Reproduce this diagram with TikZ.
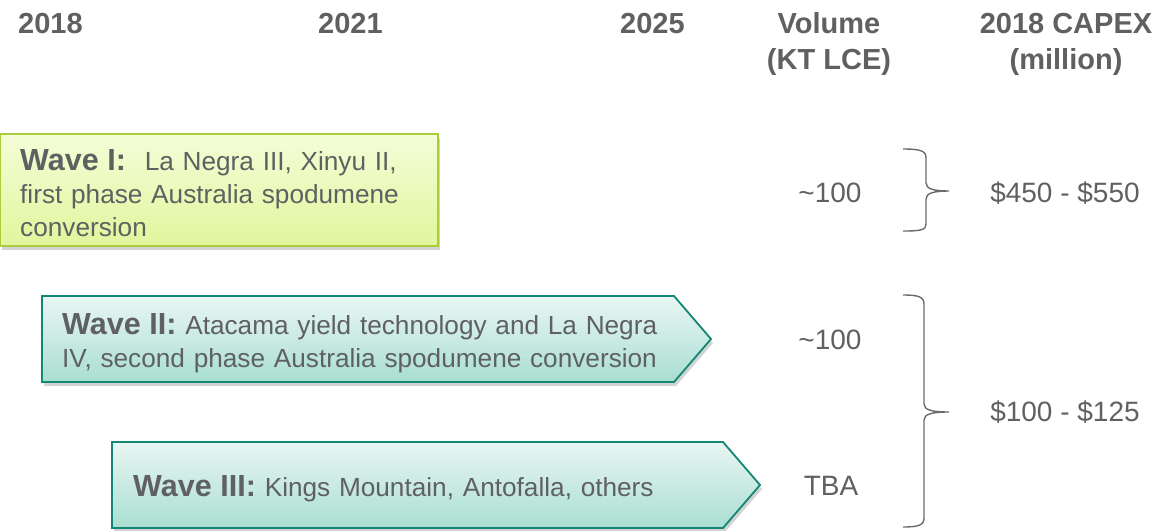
\documentclass[tikz,border=0pt]{standalone}
\usepackage{fontspec}
\setmainfont{Liberation Sans}
\usetikzlibrary{shadows}

\definecolor{txtgray}{HTML}{5F6061}
\definecolor{limeedge}{HTML}{A8CF3A}
\definecolor{limetop}{HTML}{F5FDD8}
\definecolor{limebot}{HTML}{E0F69C}
\definecolor{tealedge}{HTML}{138676}
\definecolor{tealtop}{HTML}{E9F6F3}
\definecolor{tealbot}{HTML}{A9DED1}
\definecolor{bracegray}{HTML}{6A6B6C}

\newcommand{\wavetxt}{\fontsize{26.2}{33}\selectfont}
\newcommand{\wavehead}{\fontsize{30.5}{33}\selectfont\bfseries}
\newcommand{\colhead}{\fontsize{29}{36}\selectfont\bfseries}
\newcommand{\coltxt}{\fontsize{28}{34}\selectfont}

\begin{document}
\begin{tikzpicture}[x=1pt,y=-1pt,
    wavebox/.style={line width=1.8pt,
        drop shadow={shadow xshift=2pt,shadow yshift=-4pt,opacity=0.35}},
    firstwave/.style={wavebox, draw=limeedge, top color=limetop, bottom color=limebot},
    laterwave/.style={wavebox, draw=tealedge, top color=tealtop, bottom color=tealbot},
    wavetext/.style={anchor=base west, inner sep=0pt, align=left, text=txtgray, font=\wavetxt},
    header/.style={anchor=base, inner sep=0pt, align=center, text=txtgray, font=\colhead},
    value/.style={anchor=base, inner sep=0pt, text=txtgray, font=\coltxt},
    curly/.style={draw=bracegray, line width=1.4pt}]
    \useasboundingbox (0,0) rectangle (1174,530);

    % column heads (two-line ones sit on their last line)
    \node[header, anchor=base west] (h2018) at (18,33) {2018};
    \node[header, anchor=base west] (h2021) at (318,33) {2021};
    \node[header, anchor=base west] (h2025) at (620,33) {2025};
    \node[header] (hvol) at (829,69) {Volume\\(KT LCE)};
    \node[header] (hcap) at (1066,69) {2018 CAPEX\\(million)};

    % the three waves
    \path[firstwave] (0,134) rectangle (438,246);
    \path[laterwave] (42,296) -- (674,296) -- (711,339) -- (674,382) -- (42,382) -- cycle;
    \path[laterwave] (112,442) -- (723,442) -- (760,485) -- (723,528) -- (112,528) -- cycle;

    \node[wavetext, text width=420pt] (wave1) at (20,170)
        {{\wavehead Wave I:}\hspace{10pt} La Negra III, Xinyu II,\\first phase Australia spodumene\\conversion};
    \node[wavetext, text width=640pt] (wave2) at (62,334)
        {{\wavehead Wave II:} Atacama yield technology and La Negra\\IV, second phase Australia spodumene conversion};
    \node[wavetext, text width=600pt] (wave3) at (133,496)
        {{\wavehead Wave III:} Kings Mountain, Antofalla, others};

    % volumes
    \node[value] (vol1) at (830,202) {\textasciitilde100};
    \node[value] (vol2) at (830,349) {\textasciitilde100};
    \node[value] (vol3) at (831,495) {TBA};

    % braces and capex
    \draw[curly] (903,149) .. controls (921,149) and (926,151) .. (926,158) -- (926,183)
        .. controls (926,189) and (934,191) .. (949,191)
        .. controls (934,191) and (926,193) .. (926,199) -- (926,224)
        .. controls (926,230) and (921,231) .. (903,231);
    \draw[curly] (903,295) .. controls (919,295) and (924,297) .. (924,304) -- (924,404)
        .. controls (924,410) and (932,412) .. (949,412)
        .. controls (932,412) and (924,414) .. (924,420) -- (924,518)
        .. controls (924,525) and (919,527) .. (903,527);
    \node[value] (cap1) at (1065,202) {\$450 - \$550};
    \node[value] (cap2) at (1065,421) {\$100 - \$125};
\end{tikzpicture}
\end{document}
